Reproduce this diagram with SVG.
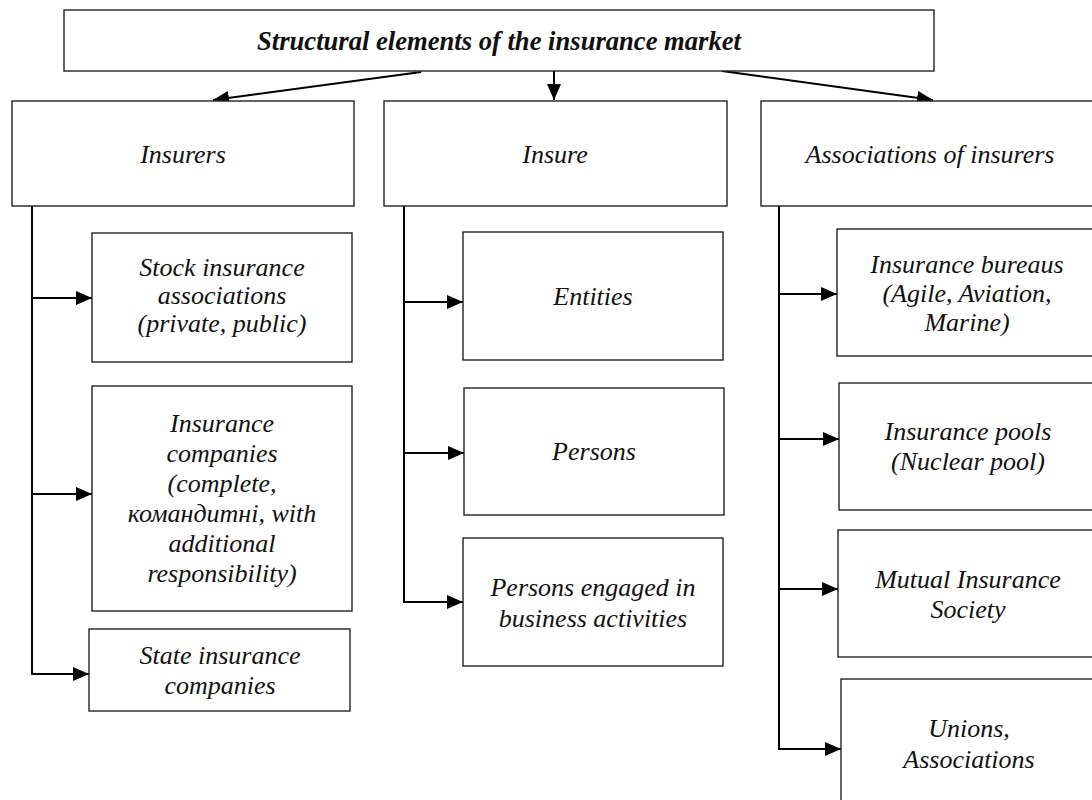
<svg xmlns="http://www.w3.org/2000/svg" width="1092" height="800" viewBox="0 0 1092 800">
  <style>
    .box { fill: #ffffff; stroke: #222222; stroke-width: 1.4; }
    .lbl { font-family: "Liberation Serif", "Times New Roman", serif; font-style: italic; font-size: 26px; fill: #111111; text-anchor: middle; }
    .title { font-weight: bold; font-size: 26.6px; }
    .wire { fill: none; stroke: #000000; stroke-width: 2; }
  </style>
  <defs>
    <marker id="head" markerUnits="userSpaceOnUse" viewBox="0 0 16 14" markerWidth="16" markerHeight="14" refX="16" refY="7" orient="auto">
      <path d="M0,0 L16,7 L0,14 z" fill="#000000"/>
    </marker>
  </defs>
  <rect width="1092" height="800" fill="#ffffff"/>

  <!-- connectors -->
  <g id="connectors">
    <line class="wire" x1="421" y1="72" x2="213" y2="100" marker-end="url(#head)"/>
    <line class="wire" x1="554" y1="71" x2="554" y2="100" marker-end="url(#head)"/>
    <line class="wire" x1="722" y1="71" x2="933" y2="100" marker-end="url(#head)"/>

    <!-- insurers branch -->
    <polyline class="wire" points="32,206 32,674 89,674" marker-end="url(#head)"/>
    <line class="wire" x1="32" y1="298" x2="92" y2="298" marker-end="url(#head)"/>
    <line class="wire" x1="32" y1="494" x2="92" y2="494" marker-end="url(#head)"/>

    <!-- insured branch -->
    <polyline class="wire" points="404,206 404,602 463,602" marker-end="url(#head)"/>
    <line class="wire" x1="404" y1="302" x2="463" y2="302" marker-end="url(#head)"/>
    <line class="wire" x1="404" y1="453" x2="464" y2="453" marker-end="url(#head)"/>

    <!-- associations branch -->
    <polyline class="wire" points="779,206 779,749 841,749" marker-end="url(#head)"/>
    <line class="wire" x1="779" y1="294" x2="837" y2="294" marker-end="url(#head)"/>
    <line class="wire" x1="779" y1="439" x2="839" y2="439" marker-end="url(#head)"/>
    <line class="wire" x1="779" y1="589" x2="838" y2="589" marker-end="url(#head)"/>
  </g>

  <!-- top node -->
  <g id="market">
    <rect class="box" x="64" y="10" width="870" height="61"/>
    <text class="lbl title" x="499" y="50">Structural elements of the insurance market</text>
  </g>

  <!-- level one -->
  <g id="insurers">
    <rect class="box" x="12" y="101" width="342" height="105"/>
    <text class="lbl" x="183" y="163">Insurers</text>
  </g>
  <g id="insured">
    <rect class="box" x="384" y="101" width="343" height="105"/>
    <text class="lbl" x="555" y="163">Insure</text>
  </g>
  <g id="associations">
    <rect class="box" x="761" y="101" width="338" height="105"/>
    <text class="lbl" x="930" y="163">Associations of insurers</text>
  </g>

  <!-- insurers children -->
  <g id="stock">
    <rect class="box" x="92" y="233" width="260" height="129"/>
    <text class="lbl" x="222" y="276">Stock insurance</text>
    <text class="lbl" x="222" y="304">associations</text>
    <text class="lbl" x="222" y="332">(private, public)</text>
  </g>
  <g id="companies">
    <rect class="box" x="92" y="386" width="260" height="225"/>
    <text class="lbl" x="222" y="432">Insurance</text>
    <text class="lbl" x="222" y="462">companies</text>
    <text class="lbl" x="222" y="492">(complete,</text>
    <text class="lbl" x="222" y="522">командитні, with</text>
    <text class="lbl" x="222" y="552">additional</text>
    <text class="lbl" x="222" y="582">responsibility)</text>
  </g>
  <g id="state">
    <rect class="box" x="89" y="629" width="261" height="82"/>
    <text class="lbl" x="220" y="664">State insurance</text>
    <text class="lbl" x="220" y="694">companies</text>
  </g>

  <!-- insured children -->
  <g id="entities">
    <rect class="box" x="463" y="232" width="260" height="128"/>
    <text class="lbl" x="593" y="305">Entities</text>
  </g>
  <g id="persons">
    <rect class="box" x="464" y="388" width="260" height="127"/>
    <text class="lbl" x="594" y="460">Persons</text>
  </g>
  <g id="entrepreneurs">
    <rect class="box" x="463" y="538" width="260" height="128"/>
    <text class="lbl" x="593" y="596">Persons engaged in</text>
    <text class="lbl" x="593" y="627">business activities</text>
  </g>

  <!-- associations children -->
  <g id="bureaus">
    <rect class="box" x="837" y="229" width="260" height="127"/>
    <text class="lbl" x="967" y="273">Insurance bureaus</text>
    <text class="lbl" x="967" y="302">(Agile, Aviation,</text>
    <text class="lbl" x="967" y="331">Marine)</text>
  </g>
  <g id="pools">
    <rect class="box" x="839" y="383" width="260" height="127"/>
    <text class="lbl" x="968" y="440">Insurance pools</text>
    <text class="lbl" x="968" y="470">(Nuclear pool)</text>
  </g>
  <g id="mutual">
    <rect class="box" x="838" y="530" width="260" height="127"/>
    <text class="lbl" x="968" y="588">Mutual Insurance</text>
    <text class="lbl" x="968" y="618">Society</text>
  </g>
  <g id="unions">
    <rect class="box" x="841" y="679" width="260" height="130"/>
    <text class="lbl" x="969" y="737">Unions,</text>
    <text class="lbl" x="969" y="768">Associations</text>
  </g>
</svg>
